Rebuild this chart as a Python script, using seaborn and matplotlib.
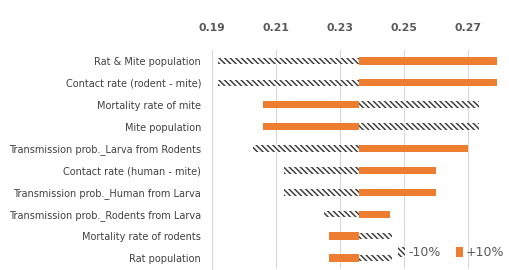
import matplotlib
matplotlib.use("Agg")
import matplotlib.pyplot as plt
import seaborn as sns
import pandas as pd
from matplotlib.patches import Patch
from matplotlib.ticker import FixedLocator

# sensitivity analysis data
params = ["Rat & Mite population", "Contact rate (rodent - mite)", "Mortality rate of mite",
          "Mite population", "Transmission prob._Larva from Rodents", "Contact rate (human - mite)",
          "Transmission prob._Human from Larva", "Transmission prob._Rodents from Larva",
          "Mortality rate of rodents", "Rat population"]
base = 0.2359
minus10 = [0.1918, 0.1917, 0.2734, 0.2734, 0.2027, 0.2126, 0.2126, 0.2251, 0.2462, 0.2462]
plus10 = [0.2790, 0.2790, 0.2058, 0.2058, 0.2699, 0.2601, 0.2601, 0.2455, 0.2265, 0.2265]
ticks = [0.19, 0.21, 0.23, 0.25, 0.27]

df = pd.DataFrame({"param": params, "minus": minus10, "plus": plus10})
df["minus_w"] = df["minus"] - base
df["plus_w"] = df["plus"] - base

orange = "#ED7D31"
hatch_col = "#404040"
hatch = "\\" * 6
plt.rcParams["hatch.linewidth"] = 1.1

fig = plt.figure(figsize=(5.1, 2.7), dpi=100)
ax = fig.add_axes([0.416, 0.004, 0.564, 0.811])

sns.barplot(data=df, x="minus_w", y="param", left=base, width=0.30, orient="h", color="white",
            facecolor="white", edgecolor=hatch_col, linewidth=0, hatch=hatch, ax=ax)
sns.barplot(data=df, x="plus_w", y="param", left=base, width=0.33, orient="h",
            color=orange, saturation=1, linewidth=0, ax=ax)

ax.set_xlim(0.19, 0.28)
ax.xaxis.tick_top()
ax.xaxis.set_major_locator(FixedLocator(ticks))
ax.set_xticklabels([f"{t:.2f}" for t in ticks], fontsize=7.8, fontweight="bold", color="#595959")
ax.tick_params(axis="x", length=0, pad=12.5)
ax.tick_params(axis="y", length=0, pad=8, labelsize=7, labelcolor="#404040")
ax.set_xlabel("")
ax.set_ylabel("")
ax.grid(axis="x", color="#d9d9d9", linewidth=0.8)
ax.set_axisbelow(True)
for s in ["top", "right", "bottom"]:
    ax.spines[s].set_visible(False)
ax.spines["left"].set_color("#d9d9d9")

handles = [Patch(facecolor="white", edgecolor=hatch_col, linewidth=0, hatch=hatch, label="-10%"),
           Patch(facecolor=orange, linewidth=0, label="+10%")]
fig.legend(handles=handles, loc="center right", bbox_to_anchor=(1.0, 0.063), ncol=2, frameon=False,
           fontsize=9, handlelength=0.55, handleheight=0.9, handletextpad=0.25, columnspacing=1.2,
           labelcolor="#595959", borderaxespad=0.05)

fig.savefig("out.png", dpi=100)
